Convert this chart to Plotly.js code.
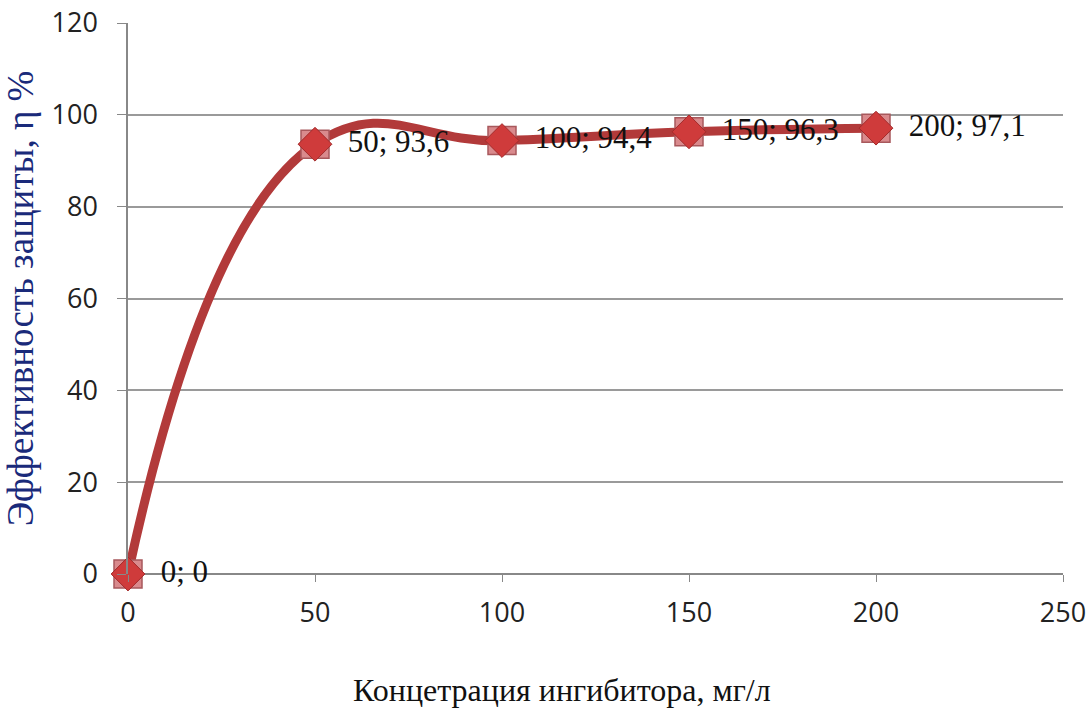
<!DOCTYPE html>
<html><head><meta charset="utf-8">
<script src="https://cdn.plot.ly/plotly-3.0.1.min.js"></script>
<style>body{margin:0;background:#fff}#c{width:1091px;height:715px}</style>
</head><body><div id="c"></div>
<script>
const conc = [0, 50, 100, 150, 200];
const eff = [0, 93.6, 94.4, 96.3, 97.1];
const labels = conc.map((c, i) => '  ' + c + '; ' + String(eff[i]).replace('.', ','));
const xTicks = [0, 50, 100, 150, 200, 250];
const yTicks = [0, 20, 40, 60, 80, 100, 120];
const xTitle = 'Концетрация ингибитора, мг/л';
const yTitle = 'Эффективность защиты, η %';

const traces = [
  {x: conc, y: eff, mode: 'lines', line: {shape: 'spline', smoothing: 1.3, color: '#b23a3a', width: 9}, hoverinfo: 'skip'},
  {x: conc, y: eff, mode: 'markers', marker: {symbol: 'square', size: 28, color: '#d98a8d', line: {color: '#a8585c', width: 1.5}}, hoverinfo: 'skip', cliponaxis: false},
  {x: conc, y: eff, mode: 'markers+text', marker: {symbol: 'diamond', size: 26, color: '#cf3b3b', line: {color: '#a32a2a', width: 1}},
   text: labels, textposition: 'middle right', textfont: {family: 'Liberation Serif', size: 31, color: '#111'}, cliponaxis: false, hoverinfo: 'skip'}
];
const layout = {
  width: 1091, height: 715, showlegend: false,
  paper_bgcolor: '#fff', plot_bgcolor: '#fff',
  margin: {l: 128, r: 28, t: 23, b: 141},
  xaxis: {range: [0, 250], tickvals: xTicks, ticks: 'outside', ticklen: 7, tickcolor: '#888', showgrid: false, zeroline: false,
    showline: false, ticklabelstandoff: 8, tickfont: {family: 'Open Sans', size: 27, color: '#222'}},
  yaxis: {range: [0, 120], tickvals: yTicks, ticks: 'outside', ticklen: 9, tickcolor: '#888', showgrid: true, gridcolor: '#9a9a9a', gridwidth: 1.5,
    zeroline: true, zerolinecolor: '#888', zerolinewidth: 1.5, showline: true, linecolor: '#888', linewidth: 1.5,
    ticklabelstandoff: 14, tickfont: {family: 'Open Sans', size: 27, color: '#222'},
    title: {text: yTitle, font: {family: 'Liberation Serif', size: 37, color: '#1a2a7a'}, standoff: 12}},
  annotations: [
    {text: xTitle, xref: 'paper', yref: 'paper', x: 0.464, y: -0.21, xanchor: 'center', yanchor: 'middle', showarrow: false,
     font: {family: 'Liberation Serif', size: 32, color: '#111'}}
  ]
};
Plotly.newPlot('c', traces, layout, {displayModeBar: false});
</script></body></html>
